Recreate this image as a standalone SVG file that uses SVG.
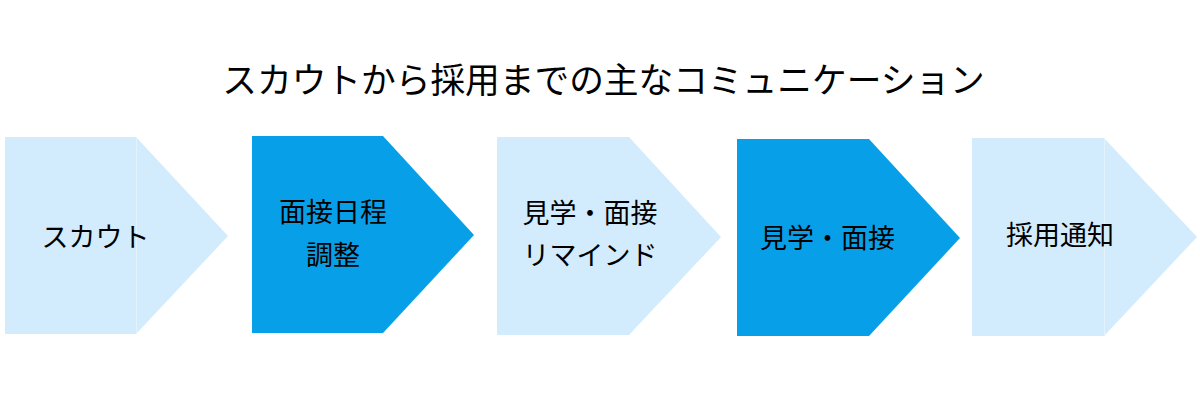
<svg xmlns="http://www.w3.org/2000/svg" width="1200" height="400" viewBox="0 0 1200 400">
<style>
.light{fill:#D2ECFD}
.dark{fill:#07A0E8}
.seam{stroke:#E2F3FE;stroke-width:1}
.t{font-family:"Noto Sans CJK JP","Noto Sans",sans-serif;font-size:27px;fill:#000;text-anchor:middle}
.title{font-family:"Noto Sans CJK JP","Noto Sans",sans-serif;font-size:34.7px;fill:#000;text-anchor:middle}
</style>
<rect width="1200" height="400" fill="#fff"/>
<text class="title" x="603.5" y="93">スカウトから採用までの主なコミュニケーション</text>
<g id="node1">
<rect class="light" x="5" y="137" width="131.5" height="197"/>
<polygon class="light" points="136,137 228,236 136,334"/>
<line class="seam" x1="136.5" y1="137" x2="136.5" y2="334"/>
<text class="t" x="95.5" y="247">スカウト</text>
</g>
<g id="node2">
<polygon class="dark" points="252,136 383,136 474,235 383,333 252,333"/>
<text class="t" x="333" y="222">面接日程</text>
<text class="t" x="333" y="265">調整</text>
</g>
<g id="node3">
<polygon class="light" points="497,137 629,137 721,237 629,335 497,335"/>
<text class="t" x="590" y="223">見学・面接</text>
<text class="t" x="590" y="265">リマインド</text>
</g>
<g id="node4">
<polygon class="dark" points="737,139 869,139 960,238 869,336 737,336"/>
<text class="t" x="827.5" y="248">見学・面接</text>
</g>
<g id="node5">
<rect class="light" x="972" y="138" width="132.5" height="198"/>
<polygon class="light" points="1104,138 1197,237 1104,336"/>
<line class="seam" x1="1104.5" y1="138" x2="1104.5" y2="336"/>
<text class="t" x="1060" y="245">採用通知</text>
</g>
<g id="connectors"/>
</svg>
